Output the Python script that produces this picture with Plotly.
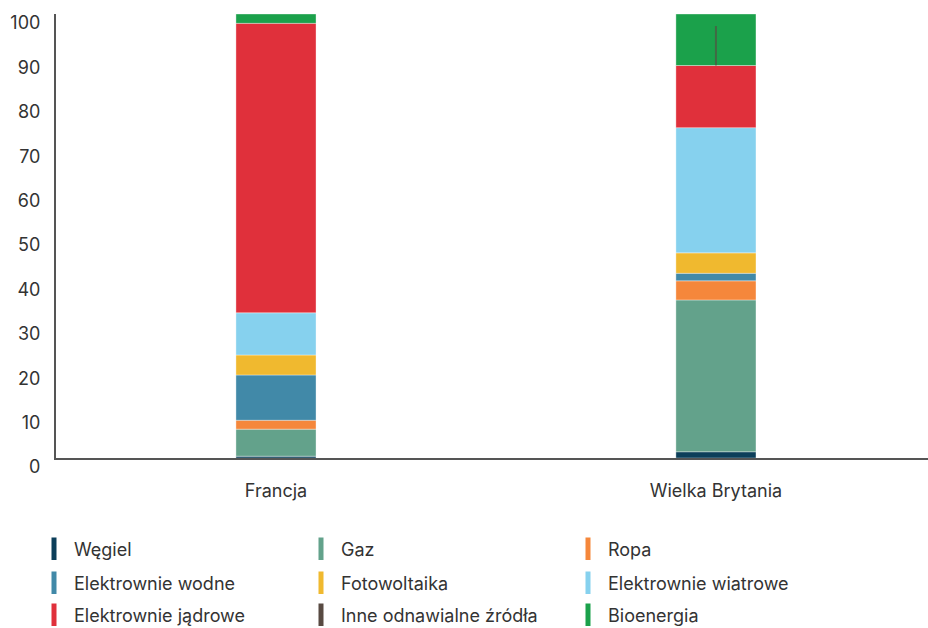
import plotly.graph_objects as go

# Electricity generation mix (%) by source
categories = ["Francja", "Wielka Brytania"]

wegiel = [0.4, 1.4]
gaz = [6.1, 34.2]
ropa = [2.0, 4.3]
wodne = [10.2, 1.7]
fotowoltaika = [4.5, 4.6]
wiatrowe = [9.5, 28.2]
jadrowe = [65.2, 14.0]
inne_odnawialne = [0.0, 8.9]
bioenergia = [2.1, 11.6]

# name, values, colour (legend order, row by row)
sources = [
    ("Węgiel", wegiel, "#0c3f5a"),
    ("Gaz", gaz, "#63a28b"),
    ("Ropa", ropa, "#f5873b"),
    ("Elektrownie wodne", wodne, "#4189a8"),
    ("Fotowoltaika", fotowoltaika, "#f0b92f"),
    ("Elektrownie wiatrowe", wiatrowe, "#86d1ee"),
    ("Elektrownie jądrowe", jadrowe, "#e0303b"),
    ("Inne odnawialne źródła", inne_odnawialne, "#584a42"),
    ("Bioenergia", bioenergia, "#1ba14b"),
]

# stacking order of the wide bars (bottom to top)
stack_order = ["Węgiel", "Gaz", "Ropa", "Elektrownie wodne", "Fotowoltaika",
               "Elektrownie wiatrowe", "Elektrownie jądrowe", "Bioenergia"]

lookup = {name: (vals, col) for name, vals, col in sources}

FONT = "Inter"
TEXT = "#333333"

fig = go.Figure()

base = [0.0] * len(categories)
jadrowe_top = None
for name in stack_order:
    vals, col = lookup[name]
    fig.add_trace(go.Bar(
        x=categories, y=vals, base=list(base), name=name,
        legendgroup=name, showlegend=False, width=0.182,
        marker=dict(color=col, line=dict(color="rgba(255,255,255,0.35)", width=1)),
    ))
    base = [b + v for b, v in zip(base, vals)]
    if name == "Elektrownie jądrowe":
        jadrowe_top = list(base)

# "Inne odnawialne źródła" drawn as a slim bar above the nuclear segment
fig.add_trace(go.Bar(
    x=categories, y=inne_odnawialne, base=jadrowe_top,
    name="Inne odnawialne źródła", legendgroup="Inne odnawialne źródła",
    showlegend=False, width=0.0045,
    marker=dict(color="rgba(88,75,66,0.65)", line=dict(width=0)),
))

# legend entries: three rows of three
legend_ids = ["legend", "legend2", "legend3"]
for i, (name, vals, col) in enumerate(sources):
    fig.add_trace(go.Scatter(
        x=[None], y=[None], mode="markers", name=name, legendgroup=name,
        legend=legend_ids[i // 3],
        marker=dict(symbol="line-ns", size=16, color=col,
                    line=dict(color=col, width=7)),
    ))

row_y = [549, 583, 615]
legend_common = dict(
    orientation="h", xref="container", yref="container",
    x=34 / 928, xanchor="left", yanchor="middle",
    entrywidth=222, entrywidthmode="pixels",
    font=dict(family=FONT, size=18, color=TEXT),
    bgcolor="rgba(0,0,0,0)", borderwidth=0, tracegroupgap=0,
    itemclick=False, itemdoubleclick=False,
)

fig.update_layout(
    width=928, height=628,
    margin=dict(l=56, r=0, t=14, b=170),
    paper_bgcolor="white", plot_bgcolor="white",
    barmode="overlay",
    font=dict(family=FONT, color=TEXT),
    legend=dict(legend_common, y=1 - row_y[0] / 628),
    legend2=dict(legend_common, y=1 - row_y[1] / 628),
    legend3=dict(legend_common, y=1 - row_y[2] / 628),
    xaxis=dict(
        type="category", range=[-0.5, 1.482],
        showline=True, linecolor="#555555", linewidth=2,
        showgrid=False, zeroline=False, ticks="",
        tickfont=dict(family=FONT, size=18, color=TEXT),
        ticklabelstandoff=15, fixedrange=True,
    ),
    yaxis=dict(
        range=[0, 100], tickmode="array",
        tickvals=[0, 10, 20, 30, 40, 50, 60, 70, 80, 90, 100],
        showline=True, linecolor="#555555", linewidth=2,
        showgrid=False, zeroline=False, ticks="",
        tickfont=dict(family=FONT, size=18, color=TEXT),
        ticklabelstandoff=10, ticklabelshift=9, fixedrange=True,
    ),
    showlegend=True,
)

fig.write_html("out.html")
